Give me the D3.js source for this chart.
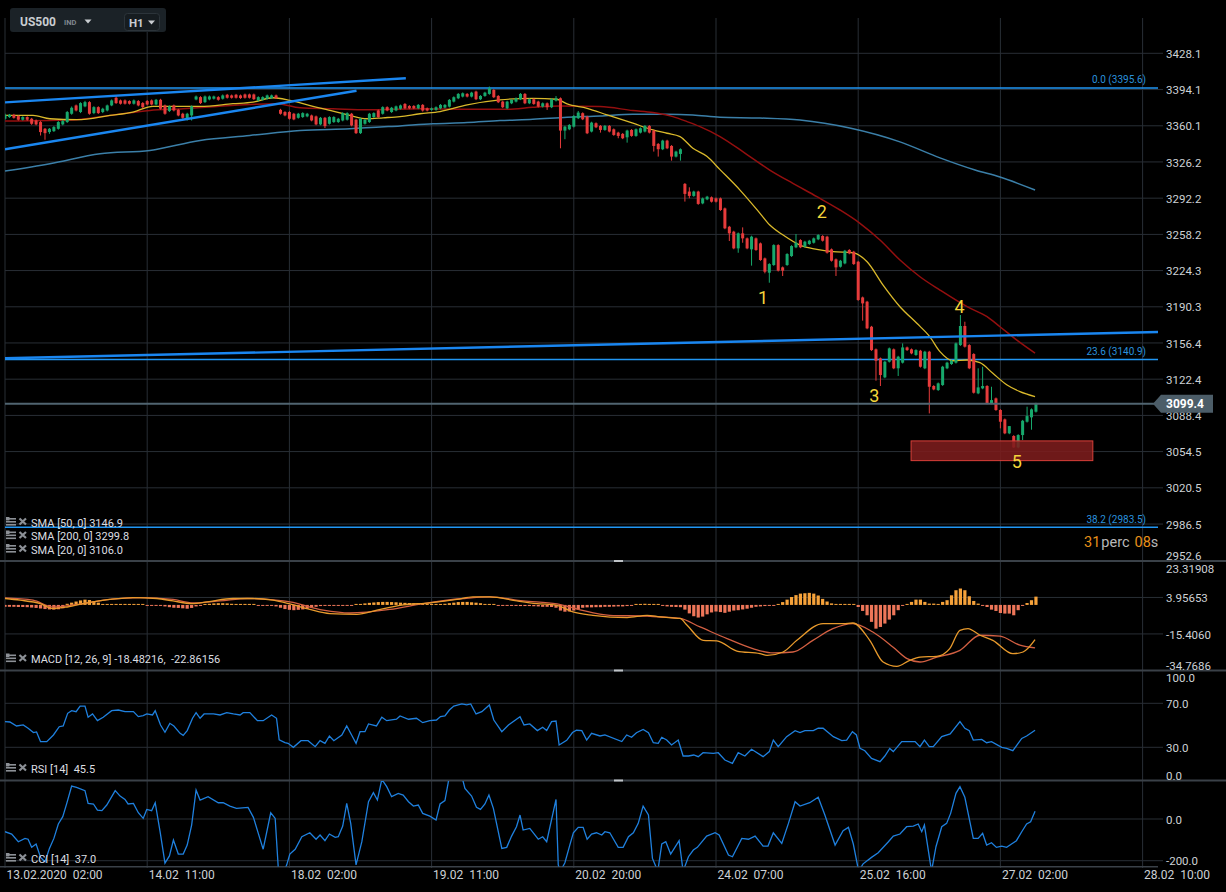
<!DOCTYPE html>
<html><head><meta charset="utf-8">
<script src="https://cdn.jsdelivr.net/npm/d3@7"></script>
<style>
html,body{margin:0;padding:0;background:#000;overflow:hidden;}
svg{display:block;font-family:Roboto,"Liberation Sans",Arial,sans-serif;}
</style></head><body>
<svg id="chart" width="1226" height="892"></svg>
<script>
// ---------------- DATA ----------------
const symbol = "US500", symbolType = "IND", timeframe = "H1";
const timeIdx = [0,32,64,96,128,160,192,224,256];
const timeLabels = ["13.02.2020  02:00","14.02  11:00","18.02  02:00","19.02  11:00","20.02  20:00","24.02  07:00","25.02  16:00","27.02  02:00","28.02  10:00"];
const mainTicks = ["3428.1","3394.1","3360.1","3326.2","3292.2","3258.2","3224.3","3190.3","3156.4","3122.4","3088.4","3054.5","3020.5","2986.5","2952.6"];
const macdTicks = ["23.31908","3.95653","-15.4060","-34.7686"];
const rsiTicks = ["100.0","70.0","30.0","0.0"];
const cciTicks = ["0.0","-200.0"];

const openP = [3366.7,3368.3,3370.4,3369.2,3365.8,3368.3,3366.7,3365.1,3363.6,3357.3,
3354.2,3355.1,3357.3,3361.4,3363.6,3371.4,3379.2,3373.0,3378.3,3382.3,
3372.0,3377.6,3373.0,3374.5,3379.2,3386.4,3383.9,3383.9,3383.3,3380.8,
3383.3,3381.4,3383.3,3383.9,3380.1,3384.5,3379.2,3373.9,3379.2,3375.1,
3371.4,3365.8,3369.8,3384.8,3387.0,3382.3,3384.8,3385.5,3387.0,3385.5,
3389.2,3388.6,3389.2,3388.6,3389.5,3389.5,3389.5,3383.9,3384.5,3385.5,
3386.1,3388.6,3375.1,3373.0,3373.0,3371.4,3367.6,3368.3,3368.9,3369.8,
3368.9,3361.4,3367.6,3362.0,3363.6,3363.6,3365.1,3365.8,3371.4,3365.8,
3353.2,3362.0,3363.6,3368.3,3374.5,3371.4,3377.6,3373.0,3374.5,3376.1,
3380.6,3378.7,3378.7,3376.5,3379.7,3376.5,3375.0,3375.0,3376.5,3377.2,
3378.1,3382.8,3385.9,3387.5,3390.0,3387.5,3392.2,3385.0,3388.1,3390.0,
3393.7,3388.1,3382.8,3376.5,3381.2,3382.8,3385.0,3390.0,3381.2,3385.0,
3382.8,3378.1,3381.2,3377.5,3383.7,3385.9,3355.6,3356.8,3359.3,3367.2,
3371.9,3368.7,3354.7,3362.5,3360.0,3356.2,3360.0,3356.8,3353.7,3352.5,
3349.3,3356.2,3350.6,3353.7,3354.7,3360.0,3355.6,3343.1,3338.1,3346.2,
3341.2,3331.2,3333.7,3305.6,3298.4,3294.3,3298.4,3287.3,3291.1,3293.0,
3292.0,3292.0,3282.6,3265.4,3260.8,3245.1,3259.2,3254.5,3244.2,3254.5,
3249.8,3235.7,3222.3,3229.5,3248.2,3227.3,3229.5,3237.9,3246.1,3252.9,
3246.7,3249.2,3250.4,3253.6,3256.7,3256.1,3244.2,3234.8,3227.9,3231.0,
3243.6,3242.0,3232.6,3199.1,3195.1,3171.6,3150.4,3141.9,3124.1,3138.8,
3150.4,3132.6,3137.9,3152.2,3150.4,3145.1,3149.1,3132.6,3148.2,3116.0,
3112.2,3116.9,3132.6,3136.6,3137.9,3154.4,3172.3,3154.4,3146.0,3109.1,
3113.8,3116.0,3099.7,3104.4,3093.5,3084.7,3071.6,3069.1,3058.4,3070.0,
3082.5,3086.6,3091.9];
const highP = [3371.5,3371.2,3371.3,3370.0,3369.0,3369.0,3367.5,3366.0,3364.5,3358.0,
3358.0,3359.8,3364.5,3365.5,3374.0,3378.2,3380.0,3382.2,3383.5,3383.2,
3378.5,3378.4,3377.0,3380.0,3384.8,3388.0,3384.7,3384.8,3384.0,3384.8,
3384.2,3382.3,3384.2,3384.8,3385.3,3385.4,3380.0,3379.2,3380.0,3376.0,
3372.3,3372.3,3379.2,3388.5,3387.9,3388.5,3388.5,3388.4,3387.9,3389.5,
3390.0,3389.4,3390.0,3389.4,3390.3,3390.3,3390.3,3387.8,3387.8,3389.4,
3389.4,3389.4,3376.0,3373.8,3373.8,3372.2,3372.2,3372.8,3372.2,3370.6,
3369.7,3368.4,3368.4,3369.1,3369.1,3367.5,3372.8,3372.8,3372.2,3366.6,
3367.5,3366.6,3372.2,3372.8,3375.3,3378.4,3378.4,3377.8,3379.1,3380.0,
3381.4,3379.5,3379.5,3380.5,3380.5,3377.3,3377.3,3378.3,3380.5,3380.5,
3385.2,3387.7,3390.8,3391.4,3390.8,3392.0,3393.0,3388.9,3392.0,3396.9,
3394.5,3388.9,3383.6,3383.6,3385.2,3386.7,3390.8,3390.8,3385.8,3385.8,
3383.6,3382.0,3382.0,3385.8,3388.0,3386.7,3360.1,3361.7,3370.1,3374.0,
3372.7,3369.5,3363.9,3363.3,3360.8,3360.8,3360.8,3357.6,3354.5,3353.3,
3356.4,3357.0,3357.6,3358.6,3360.8,3360.8,3356.4,3343.9,3347.0,3347.0,
3342.0,3336.7,3338.9,3306.4,3302.4,3299.2,3299.2,3292.8,3294.4,3293.8,
3292.8,3292.8,3283.4,3266.2,3261.6,3260.0,3264.8,3255.3,3257.0,3255.3,
3250.6,3236.5,3231.2,3249.0,3249.0,3228.1,3240.6,3248.1,3258.6,3253.7,
3252.2,3253.1,3255.3,3258.4,3257.5,3256.9,3245.0,3235.6,3234.3,3243.7,
3244.4,3242.8,3233.4,3199.9,3195.9,3172.4,3151.2,3142.7,3139.6,3152.1,
3151.2,3144.3,3156.0,3153.0,3151.2,3150.5,3149.9,3149.0,3149.0,3116.8,
3119.3,3134.9,3138.7,3140.5,3156.8,3182.6,3176.3,3155.2,3146.8,3132.6,
3134.1,3116.8,3115.3,3105.2,3094.3,3085.5,3078.4,3069.9,3070.8,3084.2,
3096.6,3095.0,3100.3];
const lowP = [3365.8,3367.5,3366.8,3365.0,3365.0,3364.8,3361.0,3360.5,3351.0,3347.0,
3352.5,3354.3,3356.5,3360.5,3362.8,3370.5,3373.6,3372.0,3377.5,3370.5,
3371.0,3371.2,3372.0,3373.6,3378.5,3380.6,3380.0,3380.0,3380.0,3380.0,
3378.4,3376.7,3379.3,3379.2,3379.3,3375.2,3370.5,3373.0,3373.6,3369.0,
3366.7,3365.0,3365.0,3384.0,3380.5,3381.5,3384.0,3384.7,3383.7,3384.7,
3385.6,3385.6,3385.6,3385.3,3385.6,3385.6,3384.3,3383.0,3383.7,3384.7,
3385.3,3385.3,3370.6,3369.0,3365.9,3365.3,3366.8,3367.5,3368.1,3364.3,
3360.6,3360.6,3358.0,3361.2,3362.8,3362.8,3364.3,3365.0,3359.6,3352.4,
3352.4,3361.2,3362.8,3367.5,3367.5,3370.6,3373.7,3372.2,3373.7,3375.3,
3375.7,3375.7,3375.7,3375.7,3373.4,3373.6,3374.2,3374.2,3375.7,3376.4,
3377.3,3382.0,3385.1,3386.7,3386.7,3386.7,3384.2,3384.2,3387.3,3389.2,
3386.1,3381.4,3376.7,3375.7,3380.4,3382.0,3384.2,3380.4,3380.4,3379.8,
3377.3,3377.3,3375.0,3376.7,3382.9,3339.0,3347.5,3356.0,3358.5,3366.4,
3365.4,3352.3,3353.9,3357.9,3353.7,3355.4,3353.9,3350.7,3348.4,3347.6,
3344.3,3349.8,3349.8,3352.9,3353.9,3352.9,3335.9,3331.2,3337.3,3338.2,
3327.4,3330.4,3327.4,3289.0,3292.1,3293.5,3286.0,3286.5,3290.3,3288.1,
3288.1,3280.3,3263.1,3252.0,3244.3,3241.0,3250.4,3244.3,3228.9,3242.8,
3233.4,3221.7,3212.9,3228.7,3223.4,3219.2,3228.7,3237.1,3245.3,3245.3,
3245.9,3248.4,3249.6,3252.8,3251.5,3240.2,3232.7,3219.2,3227.1,3230.2,
3239.6,3229.6,3195.9,3177.3,3169.3,3148.9,3121.0,3116.0,3123.3,3138.0,
3131.8,3125.4,3137.1,3148.9,3145.8,3144.3,3133.3,3131.8,3090.3,3112.0,
3111.4,3116.1,3131.8,3135.8,3137.1,3153.6,3152.1,3131.8,3108.9,3108.3,
3113.0,3098.9,3098.9,3092.7,3076.3,3070.8,3070.8,3058.0,3057.6,3065.3,
3081.7,3075.0,3091.1];
const closeP = [3370.4,3370.4,3367.6,3365.8,3368.3,3365.8,3362.0,3361.4,3354.2,3353.2,
3357.3,3358.9,3363.6,3364.5,3373.0,3377.0,3374.5,3381.4,3382.3,3371.4,
3377.6,3372.0,3376.1,3379.2,3383.9,3381.4,3380.8,3380.8,3380.8,3383.9,
3379.2,3377.6,3380.1,3380.1,3384.5,3376.1,3371.4,3378.3,3374.5,3369.8,
3367.6,3371.4,3378.3,3387.6,3381.4,3387.6,3387.6,3387.6,3384.5,3388.6,
3386.4,3386.4,3386.4,3386.1,3386.4,3386.4,3385.1,3387.0,3387.0,3388.6,
3388.6,3386.1,3371.4,3369.8,3366.7,3366.1,3371.4,3372.0,3371.4,3365.1,
3361.4,3367.6,3359.8,3368.3,3368.3,3366.7,3372.0,3372.0,3360.4,3353.2,
3366.7,3365.8,3371.4,3372.0,3368.3,3377.6,3374.5,3377.0,3378.3,3379.2,
3376.5,3376.5,3376.5,3379.7,3374.4,3374.4,3376.5,3377.5,3379.7,3379.7,
3384.4,3386.9,3390.0,3390.6,3387.5,3391.2,3385.0,3388.1,3391.2,3395.3,
3386.9,3382.2,3377.5,3382.8,3384.4,3385.9,3390.0,3381.2,3385.0,3380.6,
3378.1,3381.2,3377.5,3385.0,3385.9,3355.6,3359.3,3360.9,3369.3,3372.5,
3366.2,3353.1,3363.1,3358.7,3356.2,3360.0,3354.7,3351.5,3350.6,3348.4,
3355.6,3350.6,3356.8,3357.8,3360.0,3353.7,3341.2,3338.1,3346.2,3339.0,
3331.2,3335.9,3338.1,3296.2,3294.3,3298.4,3286.8,3292.0,3293.6,3288.9,
3288.9,3281.1,3263.9,3259.2,3245.1,3259.2,3254.5,3245.1,3256.1,3243.6,
3234.2,3223.2,3230.4,3248.2,3224.2,3224.2,3239.8,3247.3,3250.4,3246.1,
3251.4,3252.3,3254.5,3257.6,3252.3,3241.0,3233.5,3227.3,3233.5,3242.9,
3240.4,3230.4,3196.7,3193.5,3170.1,3149.7,3139.7,3126.3,3138.8,3151.3,
3132.6,3143.5,3152.2,3149.7,3146.6,3149.7,3134.1,3148.2,3115.3,3112.8,
3118.5,3134.1,3137.9,3139.7,3156.0,3172.3,3152.9,3132.6,3109.7,3114.7,
3116.0,3099.7,3102.8,3093.5,3082.5,3071.6,3078.4,3058.4,3070.0,3083.4,
3087.8,3094.1,3099.4];

// moving averages as [bar index, value]
const sma20 = [[0,3369.8],[6.3,3369.8],[10.1,3366.7],[16.2,3365.8],[23.6,3369.8],[28.8,3373.0],[33.3,3378.3],[43.9,3378.3],[51.3,3380.8],[55.8,3382.3],[60.3,3386.4],[64.1,3383.9],[69.3,3378.3],[73.8,3373.9],[77.6,3369.8],[81.5,3366.7],[85.1,3367.6],[88.9,3368.7],[93.4,3371.4],[97.9,3373.4],[104,3379.7],[111.4,3384.4],[118.8,3385.9],[124.2,3385.0],[126.5,3380.6],[131,3376.5],[135.5,3370.3],[141.3,3362.5],[145.8,3356.2],[149,3353.1],[151.9,3350.0],[154.8,3339.0],[158,3331.2],[160.9,3319.0],[165.4,3299.8],[169.9,3278.0],[172.1,3267.0],[175.1,3257.6],[178.9,3248.2],[182.7,3244.2],[186.3,3242.0],[190.8,3241.0],[194,3232.6],[197.6,3210.7],[201.4,3190.4],[205.2,3174.8],[208.1,3162.3],[210.4,3148.2],[213.3,3139.7],[216.5,3140.4],[219.4,3137.9],[222.3,3127.9],[225.5,3116.9],[228.4,3110.7],[231.8,3106.0]];
const sma50 = [[0,3364.5],[10.1,3365.1],[16.2,3365.8],[23.6,3369.8],[32.6,3374.5],[40.1,3376.1],[47.7,3378.3],[55.1,3380.1],[61.2,3380.8],[66.4,3377.0],[73.8,3376.1],[81.5,3375.1],[93.4,3376.1],[104,3375.6],[113,3375.6],[118.8,3377.5],[124.9,3378.7],[133.9,3378.1],[141.3,3374.4],[145.8,3372.5],[150.3,3368.7],[153.5,3364.0],[156.4,3359.3],[160.9,3350.0],[166.5,3334.5],[172.1,3318.6],[177.3,3306.1],[182.7,3293.6],[187.9,3281.1],[192.4,3268.6],[196.9,3252.9],[201.4,3234.2],[205.9,3218.5],[210.4,3206.0],[216.5,3190.4],[221,3181.0],[223.9,3171.6],[227.7,3159.1],[231.8,3146.9]];
const sma200 = [[0,3317.6],[10.1,3324.5],[21.4,3333.9],[32.6,3337.0],[43.9,3346.4],[55.1,3351.0],[66.4,3355.7],[77.6,3357.3],[88.9,3360.0],[96.3,3361.9],[104,3363.1],[111.4,3365.0],[118.8,3366.2],[126.5,3368.1],[133.9,3369.3],[141.3,3370.9],[148.9,3370.9],[154.8,3370.3],[160.9,3368.1],[169.9,3367.4],[178.9,3365.5],[190.1,3358.0],[201.4,3345.0],[210.4,3330.0],[218.3,3318.6],[223.9,3312.0],[231.8,3299.8]];
const smaLegend = [["SMA [50, 0]","3146.9"],["SMA [200, 0]","3299.8"],["SMA [20, 0]","3106.0"]];

// drawings: [index1, price1, index2, price2]
const trendLines = [[0,3382.1,90.2,3404.7],[0,3338.1,79.1,3393.0],[0,3142.0,259.5,3166.7]];
const fibLevels = [["0.0",3395.6],["23.6",3140.9],["38.2",2983.5]];
const zone = [203.9,3064.5,244.8,3046.0];
const waves = [["1",170.6,3199.2],["2",183.8,3279.5],["3",195.6,3106.9],["4",214.8,3190.4],["5",227.7,3045.0]];
const lastPrice = 3099.4;

// MACD [12,26,9]
const macdLine = [[0,3.4],[3.4,2.5],[7.9,0.7],[10.8,-1.9],[14,-1.1],[18.5,1.1],[23.6,2.9],[28.8,3.9],[34.2,3.4],[37.8,2.1],[42.1,0.7],[45.5,1.6],[51.3,3.4],[55.8,3.4],[60.3,2.5],[64.1,0.5],[68.6,-2.4],[73.1,-4.6],[79.2,-5.0],[83.7,-2.8],[88.9,-0.2],[95.6,1.1],[101.7,2.9],[105.3,4.3],[109.1,4.3],[115.2,2.1],[119.7,0.7],[124.2,-0.2],[127.8,-3.7],[132.3,-5.5],[140,-6.7],[144.5,-5.5],[147.4,-6.4],[151.9,-7.2],[153.5,-10.8],[157.1,-18.8],[160.2,-19.1],[164.7,-24.5],[169.9,-25.9],[171.5,-26.8],[175.1,-25.0],[178.2,-18.8],[184.1,-9.9],[188.6,-9.9],[190.8,-9.6],[194.6,-18.8],[197.6,-30.3],[200.7,-32.6],[203.6,-29.4],[205.9,-27.7],[209.7,-27.3],[212.6,-23.2],[214.9,-13.5],[216.7,-12.6],[219.4,-16.1],[222.3,-18.8],[226.8,-25.9],[229.1,-25.0],[231.8,-18.48]];
const signalLine = [[0,3.7],[6.3,2.5],[10.8,-1.1],[17.6,0.7],[23.6,2.9],[30.4,3.9],[37.8,2.9],[42.3,1.1],[48.4,2.1],[54.5,3.4],[62.6,2.1],[64.1,1.6],[71.6,-2.8],[77.6,-4.3],[86.6,-2.4],[94.1,0.7],[103.1,3.4],[109.1,4.3],[116.6,2.1],[124.2,0.5],[129.4,-2.6],[136.1,-5.5],[144.5,-6.0],[151.9,-7.2],[156.4,-11.7],[162.5,-17.9],[168.3,-23.2],[172.8,-25.5],[177.3,-25.0],[181.8,-18.8],[186.3,-12.6],[190.8,-9.9],[195.3,-14.4],[199.8,-22.3],[203,-28.5],[205.9,-30.3],[209.7,-27.7],[214.9,-24.1],[219.4,-16.1],[223.9,-16.6],[228.4,-21.4],[231.8,-22.86]];
const macdHist = [-1.0,-1.0,-1.0,-1.1,-1.1,-1.2,-1.4,-1.6,-1.9,-2.2,
-2.4,-2.5,-2.3,-1.8,0.6,1.2,1.8,2.4,2.8,2.6,
2.0,1.2,0.5,0.4,0.3,0.3,0.3,0.3,0.2,0.2,
0,0,-0.3,-0.3,-0.4,-0.5,-0.8,-1.2,-1.5,-1.6,
-1.8,-2.0,-1.6,-0.8,-0.3,0.4,0.6,0.8,0.9,0.9,
0.8,0.6,0.4,0.3,0.1,0,0,-0.3,-0.3,-0.4,
-0.5,-0.8,-1.5,-2.2,-2.6,-2.8,-2.6,-2.4,-2.0,-1.5,
-1.0,-0.6,-0.5,-0.4,-0.3,-0.3,-0.2,-0.2,-0.1,0.1,
0.5,0.8,1.1,1.3,1.5,1.6,1.6,1.5,1.4,1.2,
1.1,1.0,0.9,0.8,0.6,0.4,0.2,0,0.2,0.6,
0.9,1.2,1.5,1.6,1.6,1.4,1.2,0.9,0.5,0.3,
0,-0.3,-0.4,-0.4,-0.5,-0.5,-0.6,-0.6,-0.6,-0.7,
-0.8,-1.0,-1.0,-1.1,-1.5,-3.0,-3.6,-3.5,-3.0,-2.5,
-1.5,-1.3,-1.3,-1.2,-1.2,-1.0,-1.0,-0.9,-0.8,-0.8,
-0.6,-0.5,0.2,0.5,0.6,0.5,0.3,0.1,-0.5,-0.8,
-1.0,-1.1,-1.2,-2.5,-4.5,-6.0,-6.7,-6.2,-5.0,-4.0,
-3.5,-3.8,-4.2,-3.6,-3.0,-2.8,-2.4,-2.0,-1.5,-1.0,
-0.8,-0.6,-0.5,-0.3,0.5,1.5,2.8,4.2,5.2,6.0,
6.2,6.4,6.0,5.0,3.2,1.8,0.8,0.5,0.4,0.3,
0.3,0.2,-1.1,-3.2,-5.5,-9.0,-12.6,-11.7,-9.9,-7.8,
-5.5,-2.8,-0.5,0.2,1.6,2.8,2.8,1.6,0.7,0.7,
0.5,1.6,2.5,5.1,7.8,8.7,7.8,4.6,2.1,0.7,
-0.5,-1.1,-2.5,-3.2,-4.3,-4.6,-4.6,-5.5,-2.8,-0.3,
1.0,2.5,4.4];
const macdLegend = "MACD [12, 26, 9] -18.48216,  -22.86156";

// RSI [14]
const rsi = [[0,53.3],[1.1,53],[2.6,49.4],[4.1,50.3],[5.2,47.3],[6.4,43.4],[7.1,44],[8,35.1],[9.4,35.1],[10.9,41.2],[12.2,48.7],[13.1,49.4],[14.1,60.9],[15,63.3],[16,62.4],[16.9,67.5],[18,67.5],[18.7,57.3],[19.7,60.3],[20.8,54.2],[22.1,57.3],[24,63.3],[25.5,63.9],[27,62.4],[28.9,62.4],[30,57.9],[31.1,58.8],[31.9,60.3],[33.2,59.4],[33.8,63.3],[35,50.3],[36,43.7],[37.1,51.8],[38,49.4],[39.4,42.7],[40.1,40.9],[41,45.2],[42.2,56.4],[43,61.5],[43.9,56.4],[44.8,60.3],[46.9,60.3],[48.4,59.4],[49.9,61.5],[51.4,60.3],[52.9,59.4],[53.6,61.5],[55.1,61.5],[56.8,54.2],[58.1,54.2],[60,59.4],[61.1,56.4],[61.7,36.7],[63,34.2],[63.7,33.6],[64.9,30],[66.6,36],[68.2,36],[69.8,30.6],[70.9,36],[72,33.6],[73,40.3],[74,36],[75.8,41.2],[76.9,49.4],[78,41.2],[79,33.6],[79.9,44.2],[81,44.2],[81.8,51.2],[83.6,49.4],[84.8,57.3],[85.9,54.2],[88.1,55.5],[88.9,58.5],[90.8,55.5],[92.6,56.4],[94,52.4],[95.6,54.2],[97.1,54.8],[98,57.9],[99,58.5],[100,63.9],[101,67.5],[102.8,69.4],[103.9,68.5],[104.8,69.4],[106,60.3],[107.3,62.4],[109,68.5],[110,54.8],[111.8,44.2],[113.3,50.3],[115.9,57.9],[116.8,50.3],[118.1,51.2],[119.8,45.2],[121,48.2],[121.9,45.2],[123,53.3],[124,53.9],[124.7,32.1],[126.4,36.3],[127.7,43.4],[128.6,45.5],[129.8,45.1],[130.9,36.6],[132,42.7],[133.9,40.3],[135,41.2],[138.8,35.2],[139.9,41.2],[141,39.1],[142.1,43.3],[143.6,46.3],[144.8,43.3],[145.9,34.2],[147,33.6],[147.8,39.1],[148.9,36.6],[150,32.1],[151.5,36.6],[152.6,22.1],[153.8,22.1],[155,23],[156,21.5],[157.1,25.1],[159.4,24.5],[160.5,25.1],[162,18.4],[163.7,15.4],[165,25.1],[166.5,22.1],[168,28.2],[170.6,21.5],[172,26.1],[172.9,36.6],[174,30.6],[175.9,39.7],[177.8,45.1],[178.9,43.3],[180,45.1],[181.9,45.1],[183,47.3],[184.1,47.3],[186.4,39.7],[188.3,36.1],[189.4,36.6],[190.7,44.2],[191.6,41.2],[192.4,29],[193.5,26.9],[195,19.9],[196.9,16.9],[198,22.1],[199.1,29],[199.9,26.1],[201.8,35.2],[203.3,35.2],[204.8,35.2],[205.9,30.6],[206.9,36.6],[208,30.6],[208.9,30.6],[210.8,39.7],[212.7,42.1],[214.9,53.3],[216,47.3],[217,45.1],[217.9,36.6],[219.8,37.2],[220.9,34.2],[222,35.2],[224.3,30],[225.4,29],[226.8,26.9],[228.8,38.1],[229.9,40.3],[231.8,45.5]];
const rsiLegend = "RSI [14]  45.5";

// CCI [14]
const cci = [[0,-61],[1.5,-72],[3,-109],[4.5,-93],[5.2,-97],[6,-136],[7,-120],[8,-184],[9,-205],[10,-141],[11,-93],[12,-24],[13,11],[13.9,75],[15,158],[16.1,152],[18,136],[18.7,75],[19.9,72],[20.8,43],[21.8,40],[22.9,67],[24.8,136],[25.9,110],[27,94],[27.7,72],[28.9,75],[30,30],[31.1,3],[31.9,46],[33,40],[33.8,78],[34.9,-61],[36,-212],[37,-177],[37.9,-101],[39,-168],[40.1,-168],[41,-125],[42,-29],[43,139],[43.9,91],[45.7,107],[48,78],[49.1,78],[50.6,62],[52.1,51],[54.7,56],[55.9,8],[57,-69],[58.1,-145],[59.8,30],[60.8,3],[61.5,-236],[62.6,-260],[63.4,-220],[64.1,-168],[65.3,-145],[66.8,-85],[68.6,-66],[70,-97],[70.9,-77],[72,-104],[73,-72],[74.3,-88],[75,-85],[76,-34],[76.9,75],[77.8,-21],[79,-220],[80.3,-109],[81.8,83],[82.9,126],[83.8,91],[84.8,190],[85.9,155],[87,107],[88.5,123],[89.6,115],[90.8,83],[91.9,62],[93,67],[94,27],[95.6,14],[97,-5],[97.9,72],[99,88],[100,205],[100.9,250],[102.8,205],[103.5,147],[105,110],[106.1,56],[107,46],[108,72],[108.9,115],[109.9,51],[111.8,-141],[112.9,-136],[114,-82],[115.1,-37],[115.9,19],[116.6,-53],[118.1,-45],[120,-97],[121,-85],[121.9,-109],[124,94],[124.5,-220],[125,-250],[126,-210],[127.1,-125],[127.9,-66],[129,-40],[130.1,-40],[131,-97],[132,-72],[133.1,-66],[134.3,-77],[135,-61],[136.1,-66],[138,-136],[139.1,-136],[140.3,-85],[141.4,-66],[142.5,-21],[143.6,62],[144.8,19],[145.7,-189],[146.9,-250],[147.8,-120],[148.7,-109],[149.8,-168],[151.7,-104],[152.6,-250],[153.8,-181],[154.9,-149],[155.8,-136],[157.9,-82],[159.8,-66],[160.7,-77],[162.8,-173],[163.7,-181],[165.8,-93],[167.3,-97],[168.8,-82],[170.6,-130],[171.7,-130],[172.9,-66],[174.8,-117],[176.3,-21],[177.8,83],[178.9,62],[181.1,78],[183,104],[184.5,19],[186.8,-125],[188.6,-56],[189.8,-40],[190.9,-120],[192.1,-250],[193.1,-215],[195,-184],[196.5,-162],[198.8,-109],[199.9,-82],[201.4,-72],[202.9,-37],[204.4,-34],[205.5,-24],[206.3,-61],[206.9,-29],[208.5,-250],[209.5,-133],[210.8,-37],[211.9,-21],[212.8,27],[214,123],[214.9,155],[216,104],[217.9,-93],[219,-93],[220,-69],[220.9,-125],[222,-114],[223.1,-136],[224.3,-130],[225.4,-136],[226.5,-120],[227.6,-104],[228.8,-61],[229.9,-24],[230.8,-13],[231.8,37]];
const cciLegend = "CCI [14]  37.0";

// ---------------- DRAW ----------------
const W = 1226, H = 892;
const svg = d3.select('#chart');
svg.append('rect').attr('width', W).attr('height', H).attr('fill', '#000');

const x = d3.scaleLinear().domain([0, 256]).range([5, 1142.6]);
const yMain = d3.scaleLinear().domain([2952.6, 3428.1]).range([560.2, 53.3]);
const yMacd = d3.scaleLinear().domain([-34.7686, 23.31908]).range([670.4, 561]);
const yRsi = d3.scaleLinear().domain([0, 100]).range([780.3, 670.3]);
const yCci = d3.scaleLinear().domain([-200, 0]).range([860.7, 819]);

const PR = 1158, GR = 1163;
const GRID = '#282e35', SEP = '#3a4148', TXT = '#cdd1d5';

const defs = svg.append('defs');
function clip(id, y0, y1) {
  defs.append('clipPath').attr('id', id).append('rect')
    .attr('x', 5).attr('y', y0).attr('width', PR - 5).attr('height', y1 - y0);
  return `url(#${id})`;
}
const cMain = clip('cMain', 18, 561), cMacd = clip('cMacd', 562, 670),
      cRsi = clip('cRsi', 671, 780), cCci = clip('cCci', 781, 866.5);

// grid
const g = svg.append('g');
g.selectAll('.vg').data(timeIdx).join('line')
  .attr('x1', d => x(d)).attr('x2', d => x(d)).attr('y1', 18).attr('y2', 868)
  .attr('stroke', GRID).attr('stroke-width', 1);
function hgrid(vals, scale) {
  g.selectAll(null).data(vals).join('line')
    .attr('x1', 5).attr('x2', GR).attr('y1', d => scale(d)).attr('y2', d => scale(d))
    .attr('stroke', GRID).attr('stroke-width', 1);
}
hgrid(mainTicks.map(Number).slice(0, -1), yMain);
hgrid([3.95653, -15.4060], yMacd);
hgrid([70, 30], yRsi);
hgrid([0, -200], yCci);

// separators
[561, 670.5, 780.5].forEach(y => {
  g.append('line').attr('x1', 0).attr('x2', W).attr('y1', y).attr('y2', y)
    .attr('stroke', SEP).attr('stroke-width', 2);
  g.append('rect').attr('x', 614).attr('y', y - 1).attr('width', 9).attr('height', 2).attr('fill', '#bfc3c7');
});
g.append('line').attr('x1', 0).attr('x2', PR).attr('y1', 866.7).attr('y2', 866.7)
  .attr('stroke', SEP).attr('stroke-width', 1.5);

// main panel
const mg = svg.append('g').attr('clip-path', cMain);
mg.selectAll('.fib').data(fibLevels).join('line')
  .attr('x1', 5).attr('x2', PR).attr('y1', d => yMain(d[1])).attr('y2', d => yMain(d[1]))
  .attr('stroke', '#2196f3').attr('stroke-width', 1.4);
const lineMain = d3.line().x(d => x(d[0])).y(d => yMain(d[1])).curve(d3.curveMonotoneX);
mg.append('path').datum(sma200).attr('d', lineMain).attr('fill', 'none').attr('stroke', '#3b7fa8').attr('stroke-width', 1.5);
mg.append('path').datum(sma50).attr('d', lineMain).attr('fill', 'none').attr('stroke', '#940f0f').attr('stroke-width', 1.5);
mg.append('path').datum(sma20).attr('d', lineMain).attr('fill', 'none').attr('stroke', '#dab92b').attr('stroke-width', 1.3);

// candles
const bars = d3.range(closeP.length).map(i => ({i, o: openP[i], h: highP[i], l: lowP[i], c: closeP[i]}));
const UP = '#17a86c', DN = '#e63b3b';
mg.selectAll('.wick').data(bars).join('line')
  .attr('x1', d => x(d.i)).attr('x2', d => x(d.i))
  .attr('y1', d => yMain(d.h)).attr('y2', d => yMain(d.l))
  .attr('stroke', d => d.c >= d.o ? UP : DN).attr('stroke-width', 1);
mg.selectAll('.body').data(bars).join('rect')
  .attr('x', d => x(d.i) - 1.5).attr('width', 3)
  .attr('y', d => yMain(Math.max(d.o, d.c)))
  .attr('height', d => Math.max(1, Math.abs(yMain(d.o) - yMain(d.c))))
  .attr('fill', d => d.c >= d.o ? UP : DN);

// trend lines
mg.selectAll('.tl').data(trendLines).join('line')
  .attr('x1', d => x(d[0])).attr('y1', d => yMain(d[1]))
  .attr('x2', d => x(d[2])).attr('y2', d => yMain(d[3]))
  .attr('stroke', '#1a86f0').attr('stroke-width', 2.4);

// zone
mg.append('rect')
  .attr('x', x(zone[0])).attr('width', x(zone[2]) - x(zone[0]))
  .attr('y', yMain(zone[1])).attr('height', yMain(zone[3]) - yMain(zone[1]))
  .attr('fill', 'rgb(125,28,28)').attr('fill-opacity', 0.88)
  .attr('stroke', '#d8403a').attr('stroke-width', 1);

// last price line
svg.append('line').attr('x1', 5).attr('x2', 1155).attr('y1', yMain(lastPrice)).attr('y2', yMain(lastPrice))
  .attr('stroke', '#506470').attr('stroke-width', 2);

// waves
svg.selectAll('.wv').data(waves).join('text')
  .attr('x', d => x(d[1])).attr('y', d => yMain(d[2]))
  .attr('text-anchor', 'middle').attr('dominant-baseline', 'central')
  .attr('font-size', 18).attr('fill', '#f3d53b').text(d => d[0]);

// fib labels
svg.selectAll('.fibt').data(fibLevels).join('text')
  .attr('x', 1146).attr('y', d => yMain(d[1]) - 8)
  .attr('text-anchor', 'end').attr('dominant-baseline', 'central')
  .attr('font-size', 10).attr('fill', '#2a90dc')
  .text(d => `${d[0]} (${d[1].toFixed(1)})`);

// MACD panel
const macdG = svg.append('g').attr('clip-path', cMacd);
const y0m = yMacd(0);
macdG.selectAll('.hb').data(macdHist.map((v, i) => [i, v])).join('rect')
  .attr('x', d => x(d[0]) - 1.6).attr('width', 3.2)
  .attr('y', d => d[1] >= 0 ? Math.min(yMacd(d[1]), y0m - 1) : y0m)
  .attr('height', d => Math.max(1, Math.abs(yMacd(d[1]) - y0m)))
  .attr('fill', d => d[1] >= 0 ? '#f6a23a' : '#ee7659');
const lineMacd = d3.line().x(d => x(d[0])).y(d => yMacd(d[1])).curve(d3.curveMonotoneX);
macdG.append('path').datum(signalLine).attr('d', lineMacd).attr('fill', 'none').attr('stroke', '#d25f42').attr('stroke-width', 1.3);
macdG.append('path').datum(macdLine).attr('d', lineMacd).attr('fill', 'none').attr('stroke', '#e89a2c').attr('stroke-width', 1.3);

// RSI
const rsiG = svg.append('g').attr('clip-path', cRsi);
rsiG.append('path').datum(rsi).attr('d', d3.line().x(d => x(d[0])).y(d => yRsi(d[1])))
  .attr('fill', 'none').attr('stroke', '#1f80de').attr('stroke-width', 1.3);
// CCI
const cciG = svg.append('g').attr('clip-path', cCci);
cciG.append('path').datum(cci).attr('d', d3.line().x(d => x(d[0])).y(d => yCci(d[1])))
  .attr('fill', 'none').attr('stroke', '#1f80de').attr('stroke-width', 1.3);

// y axes
function yAxis(scale, labels, edge) {
  const ax = svg.append('g').attr('transform', 'translate(1166,0)')
    .call(d3.axisRight(scale).tickValues(labels.map(Number)).tickSize(0).tickPadding(0)
      .tickFormat((d, i) => labels[i]));
  ax.select('.domain').remove();
  ax.selectAll('text').attr('fill', TXT).attr('font-size', 11.5).attr('font-family', 'Roboto, Arial, sans-serif')
    .attr('dy', (d, i) => (edge[i] || 0) + 4.1);
  return ax;
}
yAxis(yMain, mainTicks, {14: -5.2});
yAxis(yMacd, macdTicks, {0: 7.3, 3: -5.2});
yAxis(yRsi, rsiTicks, {0: 7.6, 3: -5});
yAxis(yCci, cciTicks, {});

// x axis
const xa = svg.append('g').attr('transform', 'translate(0,868)')
  .call(d3.axisBottom(x).tickValues(timeIdx).tickSize(0).tickPadding(0).tickFormat((d, i) => timeLabels[i]));
xa.select('.domain').remove();
xa.selectAll('text').attr('fill', TXT).attr('font-size', 12).attr('text-anchor', 'start')
  .attr('dx', 1).attr('dy', 10.5).attr('font-family', 'Roboto, Arial, sans-serif').style('white-space', 'pre');

// last price tag
const yp = yMain(lastPrice);
svg.append('path').attr('d', `M1153,${yp} L1161,${yp - 9} L1213,${yp - 9} L1213,${yp + 9} L1161,${yp + 9} Z`).attr('fill', '#4c5d68');
svg.append('text').attr('x', 1166).attr('y', yp).attr('dominant-baseline', 'central')
  .attr('font-size', 12).attr('font-weight', 'bold').attr('fill', '#ffffff').text(lastPrice.toFixed(1));

// legends
function legend(y, txt) {
  const lg = svg.append('g');
  lg.append('rect').attr('x', 6).attr('y', y - 5).attr('width', 10).attr('height', 1.6).attr('fill', '#8c9096');
  lg.append('rect').attr('x', 6).attr('y', y - 2).attr('width', 10).attr('height', 1.6).attr('fill', '#8c9096');
  lg.append('rect').attr('x', 6).attr('y', y + 1).attr('width', 10).attr('height', 1.6).attr('fill', '#8c9096');
  lg.append('rect').attr('x', 6).attr('y', y - 6).attr('width', 3.5).attr('height', 3.5).attr('fill', '#8c9096');
  lg.append('path').attr('d', `M19.5,${y - 4.5} L26,${y + 1.5} M26,${y - 4.5} L19.5,${y + 1.5}`)
    .attr('stroke', '#8c9096').attr('stroke-width', 2.2);
  lg.append('text').attr('x', 31).attr('y', y).attr('dominant-baseline', 'central')
    .attr('font-size', 11).attr('fill', '#dcdee0').style('white-space', 'pre').text(txt);
}
legend(523, smaLegend[0].join(' '));
legend(536.5, smaLegend[1].join(' '));
legend(550, smaLegend[2].join(' '));
legend(659.5, macdLegend);
legend(769, rsiLegend);
legend(859, cciLegend);

// countdown
const cd = svg.append('text').attr('x', 1084).attr('y', 542).attr('dominant-baseline', 'central').attr('font-size', 14.5);
cd.append('tspan').attr('fill', '#e8901a').text('31');
cd.append('tspan').attr('fill', '#b8b8b8').attr('dx', 1).text('perc');
cd.append('tspan').attr('fill', '#e8901a').attr('dx', 5).text('08');
cd.append('tspan').attr('fill', '#b8b8b8').text('s');

// header
const hd = svg.append('g');
hd.append('rect').attr('x', 10).attr('y', 8).attr('width', 156).attr('height', 24).attr('rx', 3).attr('fill', '#1b2227');
hd.append('text').attr('x', 20).attr('y', 22).attr('dominant-baseline', 'central').attr('font-size', 12)
  .attr('font-weight', 'bold').attr('fill', '#c9cdd1').text(symbol);
hd.append('text').attr('x', 64).attr('y', 22).attr('dominant-baseline', 'central').attr('font-size', 7.5)
  .attr('font-weight', 'bold').attr('fill', '#7f878f').text(symbolType);
hd.append('path').attr('d', 'M84.5,19.5 L91.5,19.5 L88,23.5 Z').attr('fill', '#c9cdd1');
hd.append('rect').attr('x', 124.5).attr('y', 13.5).attr('width', 35).attr('height', 17).attr('rx', 3)
  .attr('fill', '#161c20').attr('stroke', '#2c343a');
hd.append('text').attr('x', 129).attr('y', 22.5).attr('dominant-baseline', 'central').attr('font-size', 11.5)
  .attr('font-weight', 'bold').attr('fill', '#c9cdd1').text(timeframe);
hd.append('path').attr('d', 'M148,20.5 L155,20.5 L151.5,24.5 Z').attr('fill', '#c9cdd1');
</script>
</body></html>
